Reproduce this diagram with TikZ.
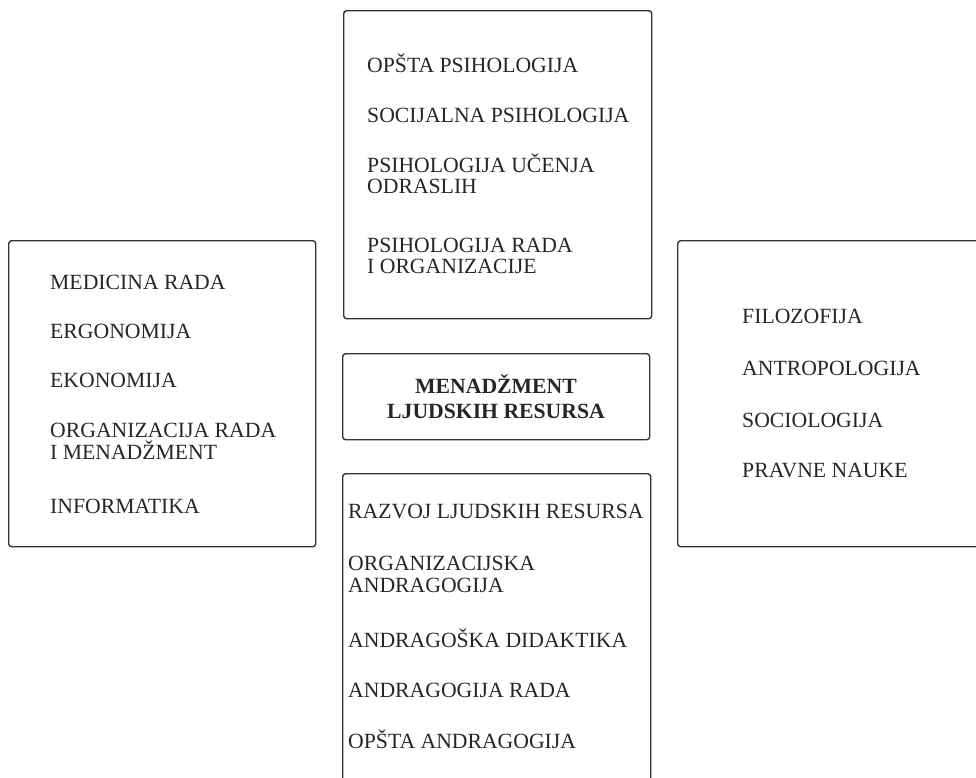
\documentclass[tikz,border=0pt]{standalone}
\usepackage{fontspec}
\setmainfont{Liberation Serif}
\begin{document}
\begin{tikzpicture}[x=1pt,y=-1pt,
  panel/.style={draw=black!80, line width=1.4pt, rounded corners=3pt, inner sep=0pt, anchor=north west},
  item/.style={anchor=base west, inner sep=0pt, text=black!85, font=\fontsize{21.7}{23}\selectfont},
  title/.style={anchor=base, inner sep=0pt, text=black!85, font=\fontsize{21.7}{23}\selectfont\bfseries}]
\useasboundingbox (0,0) rectangle (976,777);
% panels
\node[panel, minimum width=308pt, minimum height=308pt] (top) at (343,10) {};
\node[panel, minimum width=307pt, minimum height=306pt] (left) at (8,240) {};
\node[panel, minimum width=330pt, minimum height=306pt] (right) at (677,240) {};
\node[panel, minimum width=307pt, minimum height=86pt] (center) at (342,353) {};
\node[panel, minimum width=308pt, minimum height=330pt] (bottom) at (342,473) {};
% top texts
\node[item] (t1) at (367,72) {OPŠTA PSIHOLOGIJA};
\node[item] (t2) at (367,122) {SOCIJALNA PSIHOLOGIJA};
\node[item] (t3a) at (367,172) {PSIHOLOGIJA UČENJA};
\node[item] (t3b) at (367,193.5) {ODRASLIH};
\node[item] (t4a) at (367,252) {PSIHOLOGIJA RADA};
\node[item] (t4b) at (367,273.5) {I ORGANIZACIJE};
% left texts
\node[item] (l1) at (50,289) {MEDICINA RADA};
\node[item] (l2) at (50,338) {ERGONOMIJA};
\node[item] (l3) at (50,387) {EKONOMIJA};
\node[item] (l4a) at (50,437) {ORGANIZACIJA RADA};
\node[item] (l4b) at (50,459) {I MENADŽMENT};
\node[item] (l5) at (50,513) {INFORMATIKA};
% right texts
\node[item] (r1) at (742,323) {FILOZOFIJA};
\node[item] (r2) at (742,375) {ANTROPOLOGIJA};
\node[item] (r3) at (742,427) {SOCIOLOGIJA};
\node[item] (r4) at (742,477) {PRAVNE NAUKE};
% center
\node[title] (c1) at (496,393) {MENADŽMENT};
\node[title] (c2) at (496,418) {LJUDSKIH RESURSA};
% bottom texts
\node[item] (b1) at (348,518) {RAZVOJ LJUDSKIH RESURSA};
\node[item] (b2a) at (348,570) {ORGANIZACIJSKA};
\node[item] (b2b) at (348,592.5) {ANDRAGOGIJA};
\node[item] (b3) at (348,647) {ANDRAGOŠKA DIDAKTIKA};
\node[item] (b4) at (348,697) {ANDRAGOGIJA RADA};
\node[item] (b5) at (348,748) {OPŠTA ANDRAGOGIJA};
\end{tikzpicture}
\end{document}
